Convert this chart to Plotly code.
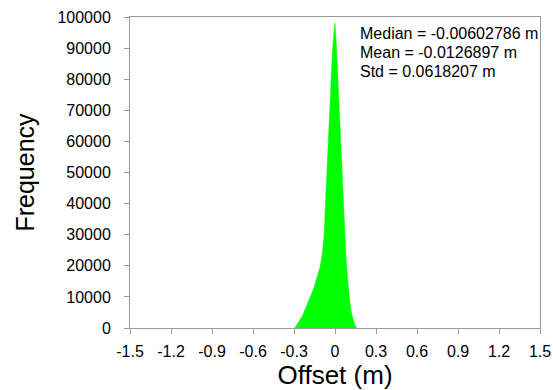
import plotly.graph_objects as go

# Histogram bin centres (m) and counts
bin_centers = [-0.30, -0.29, -0.28, -0.27, -0.26, -0.25, -0.24, -0.23, -0.22, -0.21,
               -0.20, -0.19, -0.18, -0.17, -0.16, -0.15, -0.14, -0.13, -0.12, -0.11,
               -0.10, -0.09, -0.08, -0.07, -0.06, -0.05, -0.04, -0.03, -0.02, -0.01,
               0.00, 0.01, 0.02, 0.03, 0.04, 0.05, 0.06, 0.07, 0.08, 0.09,
               0.10, 0.11, 0.12, 0.13, 0.14, 0.15, 0.16]
frequency = [0, 200, 1000, 1600, 2300, 3000, 3800, 4800, 5800, 6800,
             7800, 8800, 9900, 11000, 12200, 13500, 14900, 16300, 17800, 19500,
             22000, 25000, 30000, 40000, 50000, 61000, 71000, 80000, 88000, 94000,
             98000, 91000, 81000, 72000, 62000, 51000, 41000, 31000, 23000, 17000,
             11500, 7800, 5000, 3000, 1600, 500, 0]

x_tick_vals = [-1.5, -1.2, -0.9, -0.6, -0.3, 0, 0.3, 0.6, 0.9, 1.2, 1.5]
x_tick_text = ["-1.5", "-1.2", "-0.9", "-0.6", "-0.3", "0", "0.3", "0.6", "0.9", "1.2", "1.5"]
y_tick_vals = [0, 10000, 20000, 30000, 40000, 50000, 60000, 70000, 80000, 90000, 100000]
y_tick_text = ["0", "10000", "20000", "30000", "40000", "50000", "60000", "70000",
               "80000", "90000", "100000"]

stats_lines = ["Median = -0.00602786 m", "Mean = -0.0126897 m", "Std = 0.0618207 m"]

font_family = "Liberation Sans, Arial, Helvetica, sans-serif"

fig = go.Figure()
fig.add_trace(go.Scatter(
    x=bin_centers, y=frequency, mode="lines", line=dict(width=0.5, color="#00FF00"),
    fill="tozeroy", fillcolor="#00FF00", showlegend=False, hoverinfo="skip",
))

axis_common = dict(
    showgrid=False, zeroline=False, automargin=False,
    showline=True, linecolor="#9a9a9a", linewidth=1, mirror=True,
    ticks="outside", ticklen=5, tickcolor="#9a9a9a", tickwidth=1,
    tickfont=dict(family=font_family, size=16, color="#000000"),
)

annotations = []
line_y = [0.948, 0.887, 0.826]
for txt, yy in zip(stats_lines, line_y):
    annotations.append(dict(
        x=0.556, y=yy, xref="paper", yref="paper", xanchor="left", yanchor="middle",
        text=txt, showarrow=False, align="left",
        font=dict(family=font_family, size=16, color="#000000"),
    ))

fig.update_layout(
    width=553, height=390,
    margin=dict(l=130, r=13, t=17, b=62),
    paper_bgcolor="white", plot_bgcolor="white",
    xaxis=dict(range=[-1.5, 1.5], tickmode="array", tickvals=x_tick_vals, ticktext=x_tick_text,
               title=dict(text="Offset (m)", font=dict(family=font_family, size=26, color="#000000"),
                          standoff=2),
               ticklabelstandoff=4,
               **axis_common),
    yaxis=dict(range=[0, 100000], tickmode="array", tickvals=y_tick_vals, ticktext=y_tick_text,
               title=dict(text="Frequency", font=dict(family=font_family, size=25, color="#000000"),
                          standoff=15),
               ticklabelstandoff=10,
               **axis_common),
    annotations=annotations,
)

fig.write_html("out.html", config={"displayModeBar": False},
               post_script="document.body.style.margin='0';document.body.style.overflow='hidden';")
